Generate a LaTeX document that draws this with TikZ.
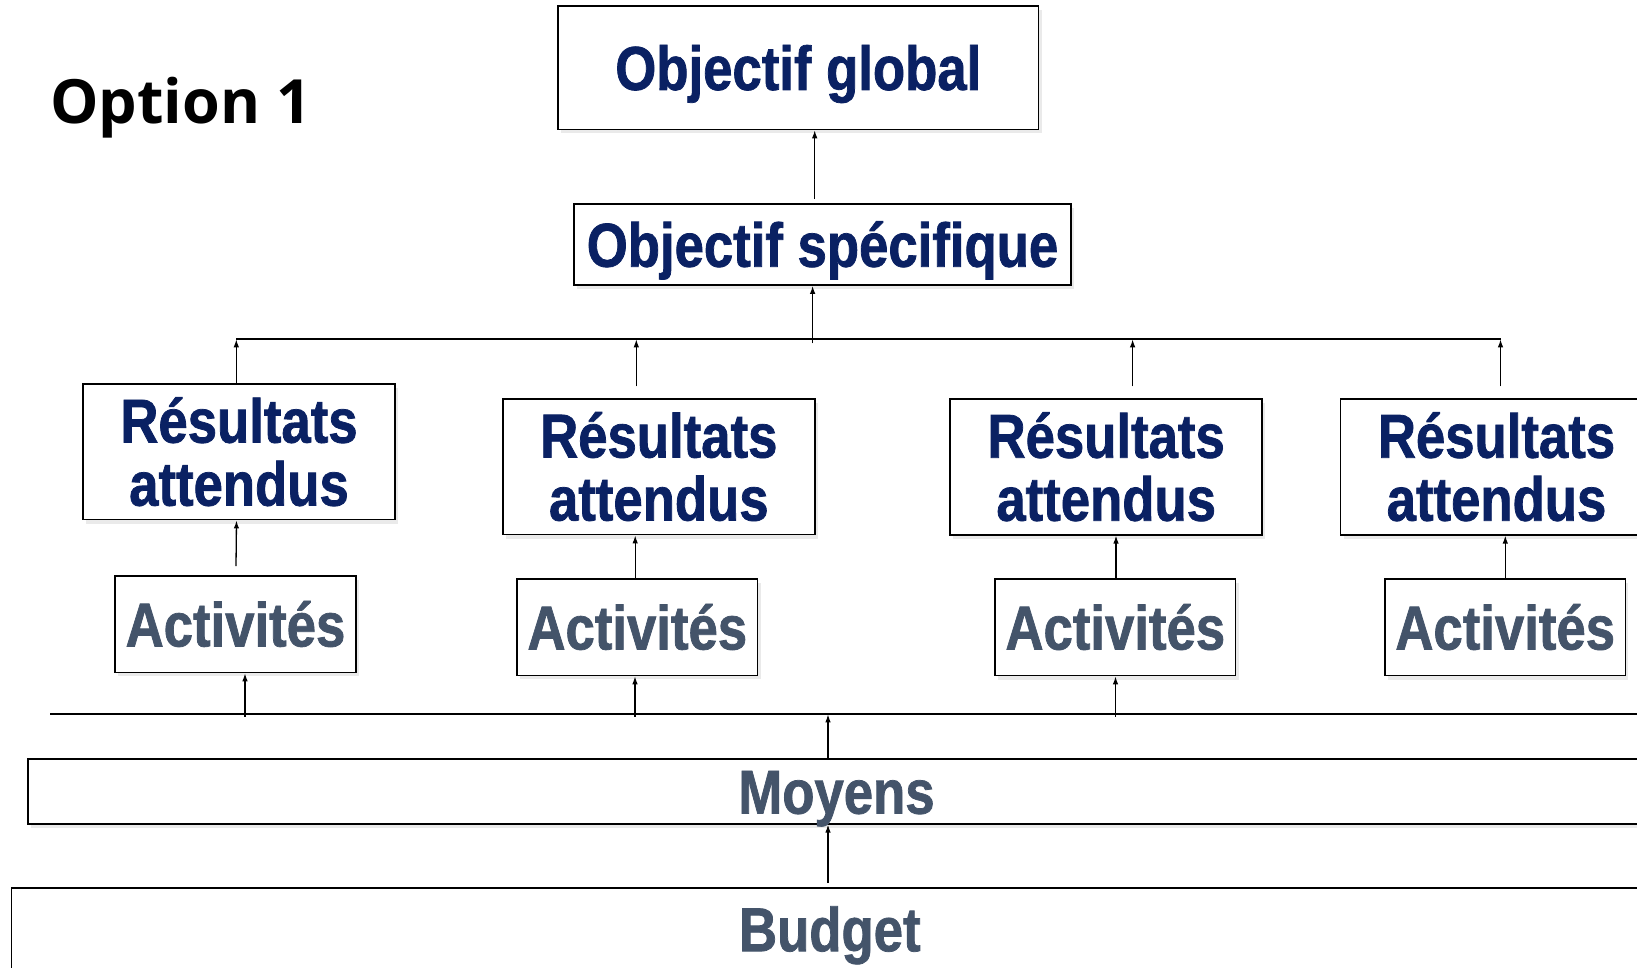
\documentclass[tikz,border=0pt]{standalone}
\usepackage{fontspec}
\usetikzlibrary{arrows.meta,shadows,calc}
\newfontfamily\condfont{Liberation Sans}[FakeStretch=0.85,FakeBold=1.2,Ligatures=NoCommon]
\newfontfamily\optfont{Open Sans}
\definecolor{navy}{HTML}{0A2163}
\definecolor{slate}{HTML}{44546A}
\begin{document}
\begin{tikzpicture}[x=1pt,y=-1pt,
  box/.style={draw=black,line width=1.6pt,fill=white,inner sep=0pt,
    drop shadow={shadow xshift=3pt,shadow yshift=-4pt,fill=black!16,opacity=0.5}},
  big/.style={font=\condfont\bfseries\fontsize{62}{63}\selectfont},
  navytxt/.style={big,text=navy},
  slatetxt/.style={big,text=slate},
  one/.style={text height=44.4pt,text depth=0pt},
  two/.style={align=center,text height=107.4pt,text depth=0pt},
  rbox/.style={box,navytxt,two,minimum width=312pt,minimum height=135.5pt},
  abox/.style={box,slatetxt,one,minimum width=240.5pt,minimum height=96.5pt},
  conn/.style={line width=1.3pt,-{Latex[length=8pt,width=5.5pt]}},
  bus/.style={line width=1.8pt}]
\useasboundingbox (0,0) rectangle (1637,967);
\node[anchor=base west,inner sep=0pt,font=\optfont\bfseries\fontsize{61}{61}\selectfont] (opt) at (50,123) {Option 1};
\node[box,navytxt,one,minimum width=480.6pt,minimum height=123.5pt] (G) at (798.3,67.7) {Objectif global};
\node[box,navytxt,one,minimum width=497pt,minimum height=81pt] (S) at (822.5,244.5) {Objectif spécifique};
\node[rbox] (R1) at (239,451.9) {Résultats\\attendus};
\node[rbox] (R2) at (658.8,466.8) {Résultats\\attendus};
\node[rbox] (R3) at (1106.2,467) {Résultats\\attendus};
\node[rbox] (R4) at (1496.5,467) {Résultats\\attendus};
\node[abox] (A1) at (235.5,624.2) {Activités};
\node[abox] (A2) at (637.3,627.2) {Activités};
\node[abox] (A3) at (1115.3,627.3) {Activités};
\node[abox] (A4) at (1505.2,627.3) {Activités};
\node[box,slatetxt,one,minimum width=1617pt,minimum height=64.7pt] (M) at (836.5,791.4) {Moyens};
\node[box,slatetxt,one,minimum width=1636.5pt,minimum height=82.6pt] (B) at (829.8,929) {Budget};
% top bus
\coordinate (tb1) at (236.3,339.3);
\coordinate (tb2) at (636.3,339.3);
\coordinate (tbs) at (812.6,339.3);
\coordinate (tb3) at (1132.6,339.3);
\coordinate (tb4) at (1500.5,339.3);
\draw[bus] (tb1) -- (tb4);
\draw[conn] (tb1 |- R1.north) -- (tb1);
\draw[conn] ($(tb2 |- R2.north)+(0,-12)$) -- (tb2);
\draw[conn] ($(tb3 |- R3.north)+(0,-12)$) -- (tb3);
\draw[conn] ($(tb4 |- R4.north)+(0,-12)$) -- (tb4);
\draw[conn] ($(tbs)+(0,4)$) -- (tbs |- S.south);
\draw[conn] ($(S.north)+(-7.8,-4)$) -- ($(G.south)+(16.4,0)$);
% activities to results
\draw[conn] ($(A1.north)+(0.5,-9)$) -- ($(R1.south)+(-2.5,0)$);
\draw[conn] ($(A2.north)+(-2.1,0)$) -- ($(R2.south)+(-23.6,0)$);
\draw[conn] ($(A3.north)+(0.7,0)$) -- ($(R3.south)+(9.8,0)$);
\draw[conn] ($(A4.north)+(0.1,0)$) -- ($(R4.south)+(8.8,0)$);
% bottom bus
\coordinate (bbL) at (50,714.3);
\coordinate (bbR) at (1660,714.3);
\coordinate (bb1) at (245,714.3);
\coordinate (bb2) at (635,714.3);
\coordinate (bb3) at (1115.5,714.3);
\coordinate (bbm) at (828,714.3);
\draw[bus] (bbL) -- (bbR);
\draw[conn] ($(bb1)+(0,2.4)$) -- (bb1 |- A1.south);
\draw[conn] ($(bb2)+(0,2.4)$) -- (bb2 |- A2.south);
\draw[conn] ($(bb3)+(0,2.4)$) -- (bb3 |- A3.south);
\draw[conn] (bbm |- M.north) -- (bbm);
\draw[conn] ($(bbm |- B.north)+(0,-3.7)$) -- (bbm |- M.south);
\end{tikzpicture}
\end{document}
